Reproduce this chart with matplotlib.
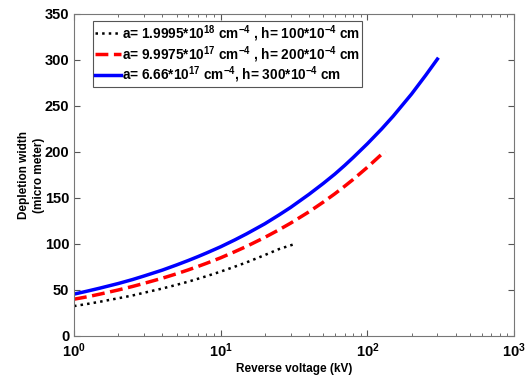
import matplotlib
matplotlib.use('Agg')
import matplotlib.pyplot as plt
from matplotlib.ticker import LogLocator, FixedLocator

plt.rcParams['font.family'] = ['Liberation Sans', 'DejaVu Sans']
plt.rcParams['font.weight'] = 'bold'
plt.rcParams['mathtext.default'] = 'regular'

# --- data ---
v_black = [1, 1.25, 1.5, 2, 2.5, 3, 4, 5, 6, 7, 8, 10, 12.5, 15, 20, 25, 32]
w_black = [32.5, 35, 37.2, 41, 44, 47, 51.6, 55.6, 59, 62.2, 65, 70, 75.4, 80, 88, 94.5, 100]

v_red = [1, 1.25, 1.5, 2, 2.5, 3, 4, 5, 6, 7, 8, 10, 12.5, 15, 20, 25, 30,
         40, 50, 60, 70, 80, 100, 125, 133]
w_red = [40, 42.8, 45.5, 50, 53.8, 57.2, 62.8, 67.6, 71.8, 75.6, 79, 85, 91.7,
         97.4, 107.2, 115.5, 122.7, 135, 145.5, 154.6, 162.8, 170.2, 183.4, 197.5, 200]

v_blue = [1, 1.25, 1.5, 2, 2.5, 3, 4, 5, 6, 7, 8, 10, 12.5, 15, 20, 25, 30,
          40, 50, 60, 70, 80, 100, 125, 150, 200, 250, 300]
w_blue = [45.5, 49, 52, 57, 61.3, 65.2, 71.6, 77.2, 82, 86.3, 90.2, 97, 104.5,
          111, 122, 131.6, 139.8, 154, 165.8, 176, 185.4, 194, 209, 225, 239,
          263, 283.5, 301]

labels = [
    r'a= 1.9995*10$^{18}$ cm$^{-4}$ , h= 100*10$^{-4}$ cm',
    r'a= 9.9975*10$^{17}$ cm$^{-4}$ , h= 200*10$^{-4}$ cm',
    r'a= 6.66*10$^{17}$ cm$^{-4}$, h= 300*10$^{-4}$ cm',
]

fig = plt.figure(figsize=(5.3, 3.76), dpi=100)
ax = fig.add_axes([0.1396, 0.1064, 0.8304, 0.8564])

ax.plot(v_black, w_black, color='black', ls=':', lw=1.8, label=labels[0])
ax.plot(v_red, w_red, color='red', ls='--', lw=2.5, label=labels[1])
ax.plot(v_blue, w_blue, color='blue', ls='-', lw=2.5, label=labels[2])

ax.set_xscale('log')
ax.set_xlim(1, 1000)
ax.set_ylim(0, 350)
ax.yaxis.set_major_locator(FixedLocator([0, 50, 100, 150, 200, 250, 300, 350]))
ax.xaxis.set_major_locator(LogLocator(base=10, numticks=10))

ax.tick_params(which='both', direction='in', top=True, right=True,
               color='#555555', labelsize=10.5)
ax.tick_params(which='major', length=4.5)
ax.tick_params(which='minor', length=2.5)
ax.tick_params(axis='x', pad=4)
for sp in ax.spines.values():
    sp.set_color('#777777')

ax.set_xlabel('Reverse voltage (kV)', fontsize=8.5, fontweight='bold', labelpad=2)
ax.set_ylabel('Depletion width\n(micro meter)', fontsize=8.5, fontweight='bold',
              labelpad=0, linespacing=1.3)

leg = ax.legend(loc='upper left', bbox_to_anchor=(0.043, 0.978),
                prop={'weight': 'bold', 'size': 9.8}, fancybox=False,
                edgecolor='#555555', framealpha=1, handlelength=1.9,
                handletextpad=0.1, borderpad=0.15, labelspacing=0.02,
                borderaxespad=0)
leg.get_frame().set_linewidth(0.8)

fig.savefig('out.png', dpi=100, facecolor='white')
